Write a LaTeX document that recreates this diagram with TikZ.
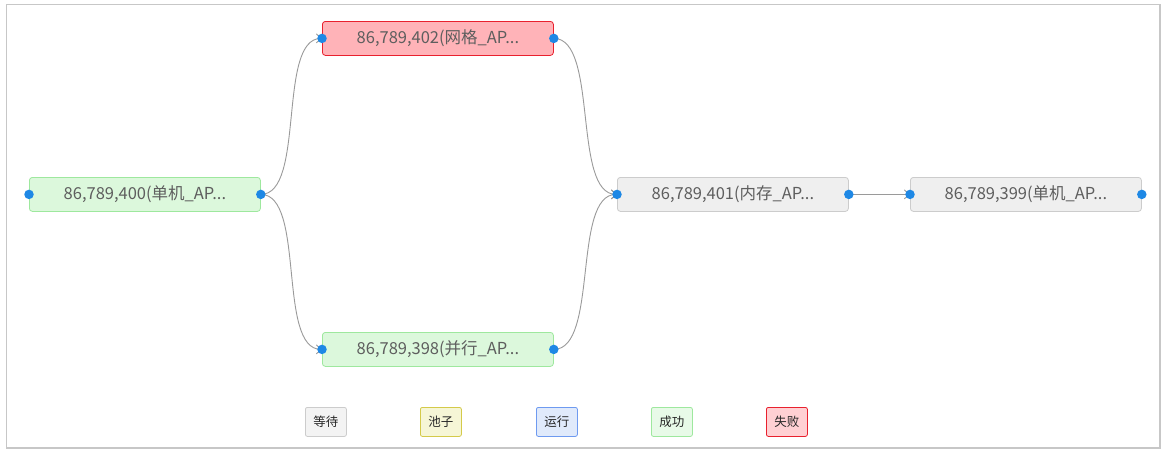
\documentclass[tikz,border=0pt]{standalone}
\usepackage{fontspec}
\setmainfont{Noto Sans CJK SC}
\usetikzlibrary{arrows.meta}
\definecolor{dotblue}{HTML}{1E88E5}
\definecolor{edgegray}{HTML}{9A9A9A}
\definecolor{txtgray}{HTML}{5E5E5E}
\definecolor{okfill}{HTML}{DCF8DC}
\definecolor{okdraw}{HTML}{9EE89E}
\definecolor{failfill}{HTML}{FFB3B8}
\definecolor{faildraw}{HTML}{E8212E}
\definecolor{waitfill}{HTML}{EFEFEF}
\definecolor{waitdraw}{HTML}{CCCCCC}
\definecolor{lwfill}{HTML}{F3F3F3}
\definecolor{lpfill}{HTML}{F6F6D6}
\definecolor{lpdraw}{HTML}{D4CA4A}
\definecolor{lrfill}{HTML}{E0EAFB}
\definecolor{lrdraw}{HTML}{6E9AF0}
\definecolor{lsfill}{HTML}{E8FAE8}
\definecolor{lffill}{HTML}{FFD0D3}
\tikzset{
  x=1pt,y=-1pt,
  job/.style={rounded corners=3pt, minimum width=231pt, minimum height=34pt, inner sep=0pt, line width=0.8pt, text=txtgray, font=\fontsize{16.5}{19}\selectfont, anchor=north west},
  legend/.style={rounded corners=2pt, minimum width=41pt, minimum height=29pt, inner sep=0pt, line width=0.8pt, font=\fontsize{12.5}{14}\selectfont, text=black!85, anchor=north west},
  dot/.style={circle, fill=dotblue, inner sep=0pt, minimum size=9.5pt},
  link/.style={draw=edgegray, line width=0.9pt, -{Straight Barb[length=5pt,width=9pt]}},
}
\begin{document}
\begin{tikzpicture}
\fill[white] (0,0) rectangle (1165,450);
\useasboundingbox (0,0) rectangle (1165,450);
\draw[black!22, line width=1.5pt] (6.5,4.5) rectangle (1160,448);

\node[job, draw=okdraw, fill=okfill] (n400) at (29,177) {86,789,400(单机\_AP...};
\node[job, draw=faildraw, fill=failfill] (n402) at (322,21) {86,789,402(网格\_AP...};
\node[job, draw=okdraw, fill=okfill] (n398) at (322,332) {86,789,398(并行\_AP...};
\node[job, draw=waitdraw, fill=waitfill] (n401) at (617,177) {86,789,401(内存\_AP...};
\node[job, draw=waitdraw, fill=waitfill] (n399) at (910,177) {86,789,399(单机\_AP...};

\draw[link] (n400.east) .. controls +(45,0) and +(-45,0) .. (n402.west);
\draw[link] (n400.east) .. controls +(45,0) and +(-45,0) .. (n398.west);
\draw[link] (n402.east) .. controls +(45,0) and +(-45,0) .. (n401.west);
\draw[link] (n398.east) .. controls +(45,0) and +(-45,0) .. (n401.west);
\draw[link] (n401.east) -- (n399.west);

\foreach \n in {n400,n402,n398,n401,n399}{
  \node[dot] (\n-l) at (\n.west) {};
  \node[dot] (\n-r) at (\n.east) {};
}

\node[legend, draw=waitdraw, fill=lwfill] (lw) at (305,407) {等待};
\node[legend, draw=lpdraw, fill=lpfill] (lp) at (420,407) {池子};
\node[legend, draw=lrdraw, fill=lrfill] (lr) at (536,407) {运行};
\node[legend, draw=okdraw, fill=lsfill] (ls) at (651,407) {成功};
\node[legend, draw=faildraw, fill=lffill] (lf) at (766,407) {失败};
\end{tikzpicture}
\end{document}
